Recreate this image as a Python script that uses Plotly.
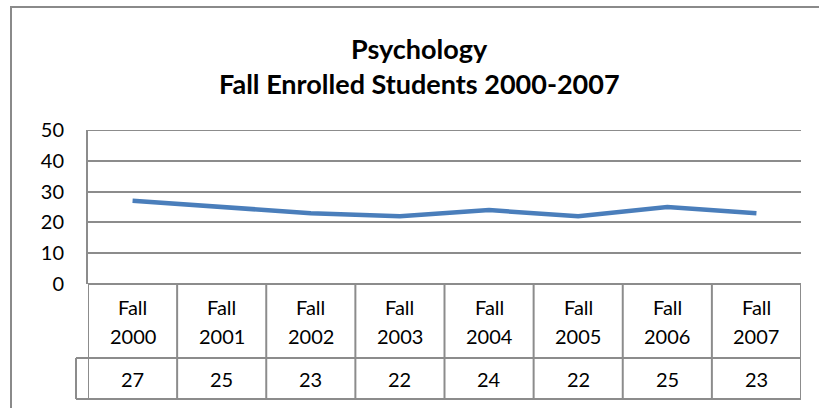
import plotly.graph_objects as go

categories = ["Fall 2000", "Fall 2001", "Fall 2002", "Fall 2003",
              "Fall 2004", "Fall 2005", "Fall 2006", "Fall 2007"]
values = [27, 25, 23, 22, 24, 22, 25, 23]
y_ticks = [0, 10, 20, 30, 40, 50]
title_lines = ["Psychology", "Fall Enrolled Students 2000-2007"]

W, H = 819, 408
FONT = "Lato"
GRID = "#8c8c8c"
BORDER = "#8a8a8a"

def px_x(p):
    return p / W

def px_y(p):
    return (H - p) / H

plot_left, plot_right = 88, 801
plot_top, plot_bottom = 130, 284
row1_bottom, row2_bottom = 358, 399
key_left = 76
label_line_y = [307, 336]

n = len(categories)
xs = list(range(n))

fig = go.Figure()
fig.add_trace(go.Scatter(
    x=xs, y=values, mode="lines",
    line=dict(color="#4a7ebb", width=4.5),
    hoverinfo="skip", showlegend=False,
))

shapes = []
# outer chart border
shapes.append(dict(type="rect", xref="paper", yref="paper",
                   x0=px_x(11), x1=1.02, y0=-0.02, y1=px_y(7),
                   line=dict(color=BORDER, width=2), layer="below"))
# top gridline at the axis maximum
shapes.append(dict(type="line", xref="paper", yref="y",
                   x0=px_x(plot_left), x1=px_x(plot_right), y0=max(y_ticks), y1=max(y_ticks),
                   line=dict(color=GRID, width=2), layer="below"))
# horizontal table lines
for yy, xl in [(plot_bottom, plot_left), (row1_bottom, key_left), (row2_bottom, key_left)]:
    shapes.append(dict(type="line", xref="paper", yref="paper",
                       x0=px_x(xl), x1=px_x(plot_right), y0=px_y(yy), y1=px_y(yy),
                       line=dict(color=GRID, width=2)))
# vertical cell boundaries
for i in range(n + 1):
    shapes.append(dict(type="line", xref="x", yref="paper",
                       x0=i - 0.5, x1=i - 0.5, y0=px_y(plot_bottom), y1=px_y(row2_bottom),
                       line=dict(color=GRID, width=2)))
# legend key cell left edge
shapes.append(dict(type="line", xref="paper", yref="paper",
                   x0=px_x(key_left), x1=px_x(key_left), y0=px_y(row1_bottom), y1=px_y(row2_bottom),
                   line=dict(color=GRID, width=2)))

annotations = []
for i, (c, v) in enumerate(zip(categories, values)):
    for part, ly in zip(c.split(" "), label_line_y):
        annotations.append(dict(x=i, y=px_y(ly), xref="x", yref="paper",
                                xanchor="center", yanchor="middle",
                                text=part, showarrow=False,
                                font=dict(family=FONT, size=20, color="#000")))
    annotations.append(dict(x=i, y=px_y((row1_bottom + row2_bottom) / 2), xref="x", yref="paper",
                            xanchor="center", yanchor="middle",
                            text=str(v), showarrow=False,
                            font=dict(family=FONT, size=20, color="#000")))
annotations.append(dict(x=px_x(420), y=px_y(48), xref="paper", yref="paper",
                        xanchor="center", yanchor="middle",
                        text="<b>%s</b>" % title_lines[0], showarrow=False,
                        font=dict(family=FONT, size=27, color="#000")))
annotations.append(dict(x=px_x(420), y=px_y(83), xref="paper", yref="paper",
                        xanchor="center", yanchor="middle",
                        text="<b>%s</b>" % title_lines[1], showarrow=False,
                        font=dict(family=FONT, size=27, color="#000")))

fig.update_layout(
    width=W, height=H,
    margin=dict(l=0, r=0, t=0, b=0, pad=0, autoexpand=False),
    paper_bgcolor="white", plot_bgcolor="white",
    shapes=shapes, annotations=annotations,
    xaxis=dict(domain=[px_x(plot_left), px_x(plot_right)], range=[-0.5, n - 0.5],
               showticklabels=False, showgrid=False, zeroline=False, showline=False,
               fixedrange=True, automargin=False),
    yaxis=dict(domain=[px_y(plot_bottom), px_y(plot_top)], range=[0, 50],
               tickvals=y_ticks, ticktext=[str(t) for t in y_ticks],
               showgrid=True, gridcolor=GRID, gridwidth=2,
               zeroline=False, showline=True, linecolor=GRID, linewidth=2,
               ticks="", ticklabelstandoff=18, automargin=False,
               tickfont=dict(family=FONT, size=20, color="#000"), fixedrange=True),
)

fig.write_html("out.html", config={"displayModeBar": False},
               post_script="document.body.style.margin='0';document.body.style.overflow='hidden';")
